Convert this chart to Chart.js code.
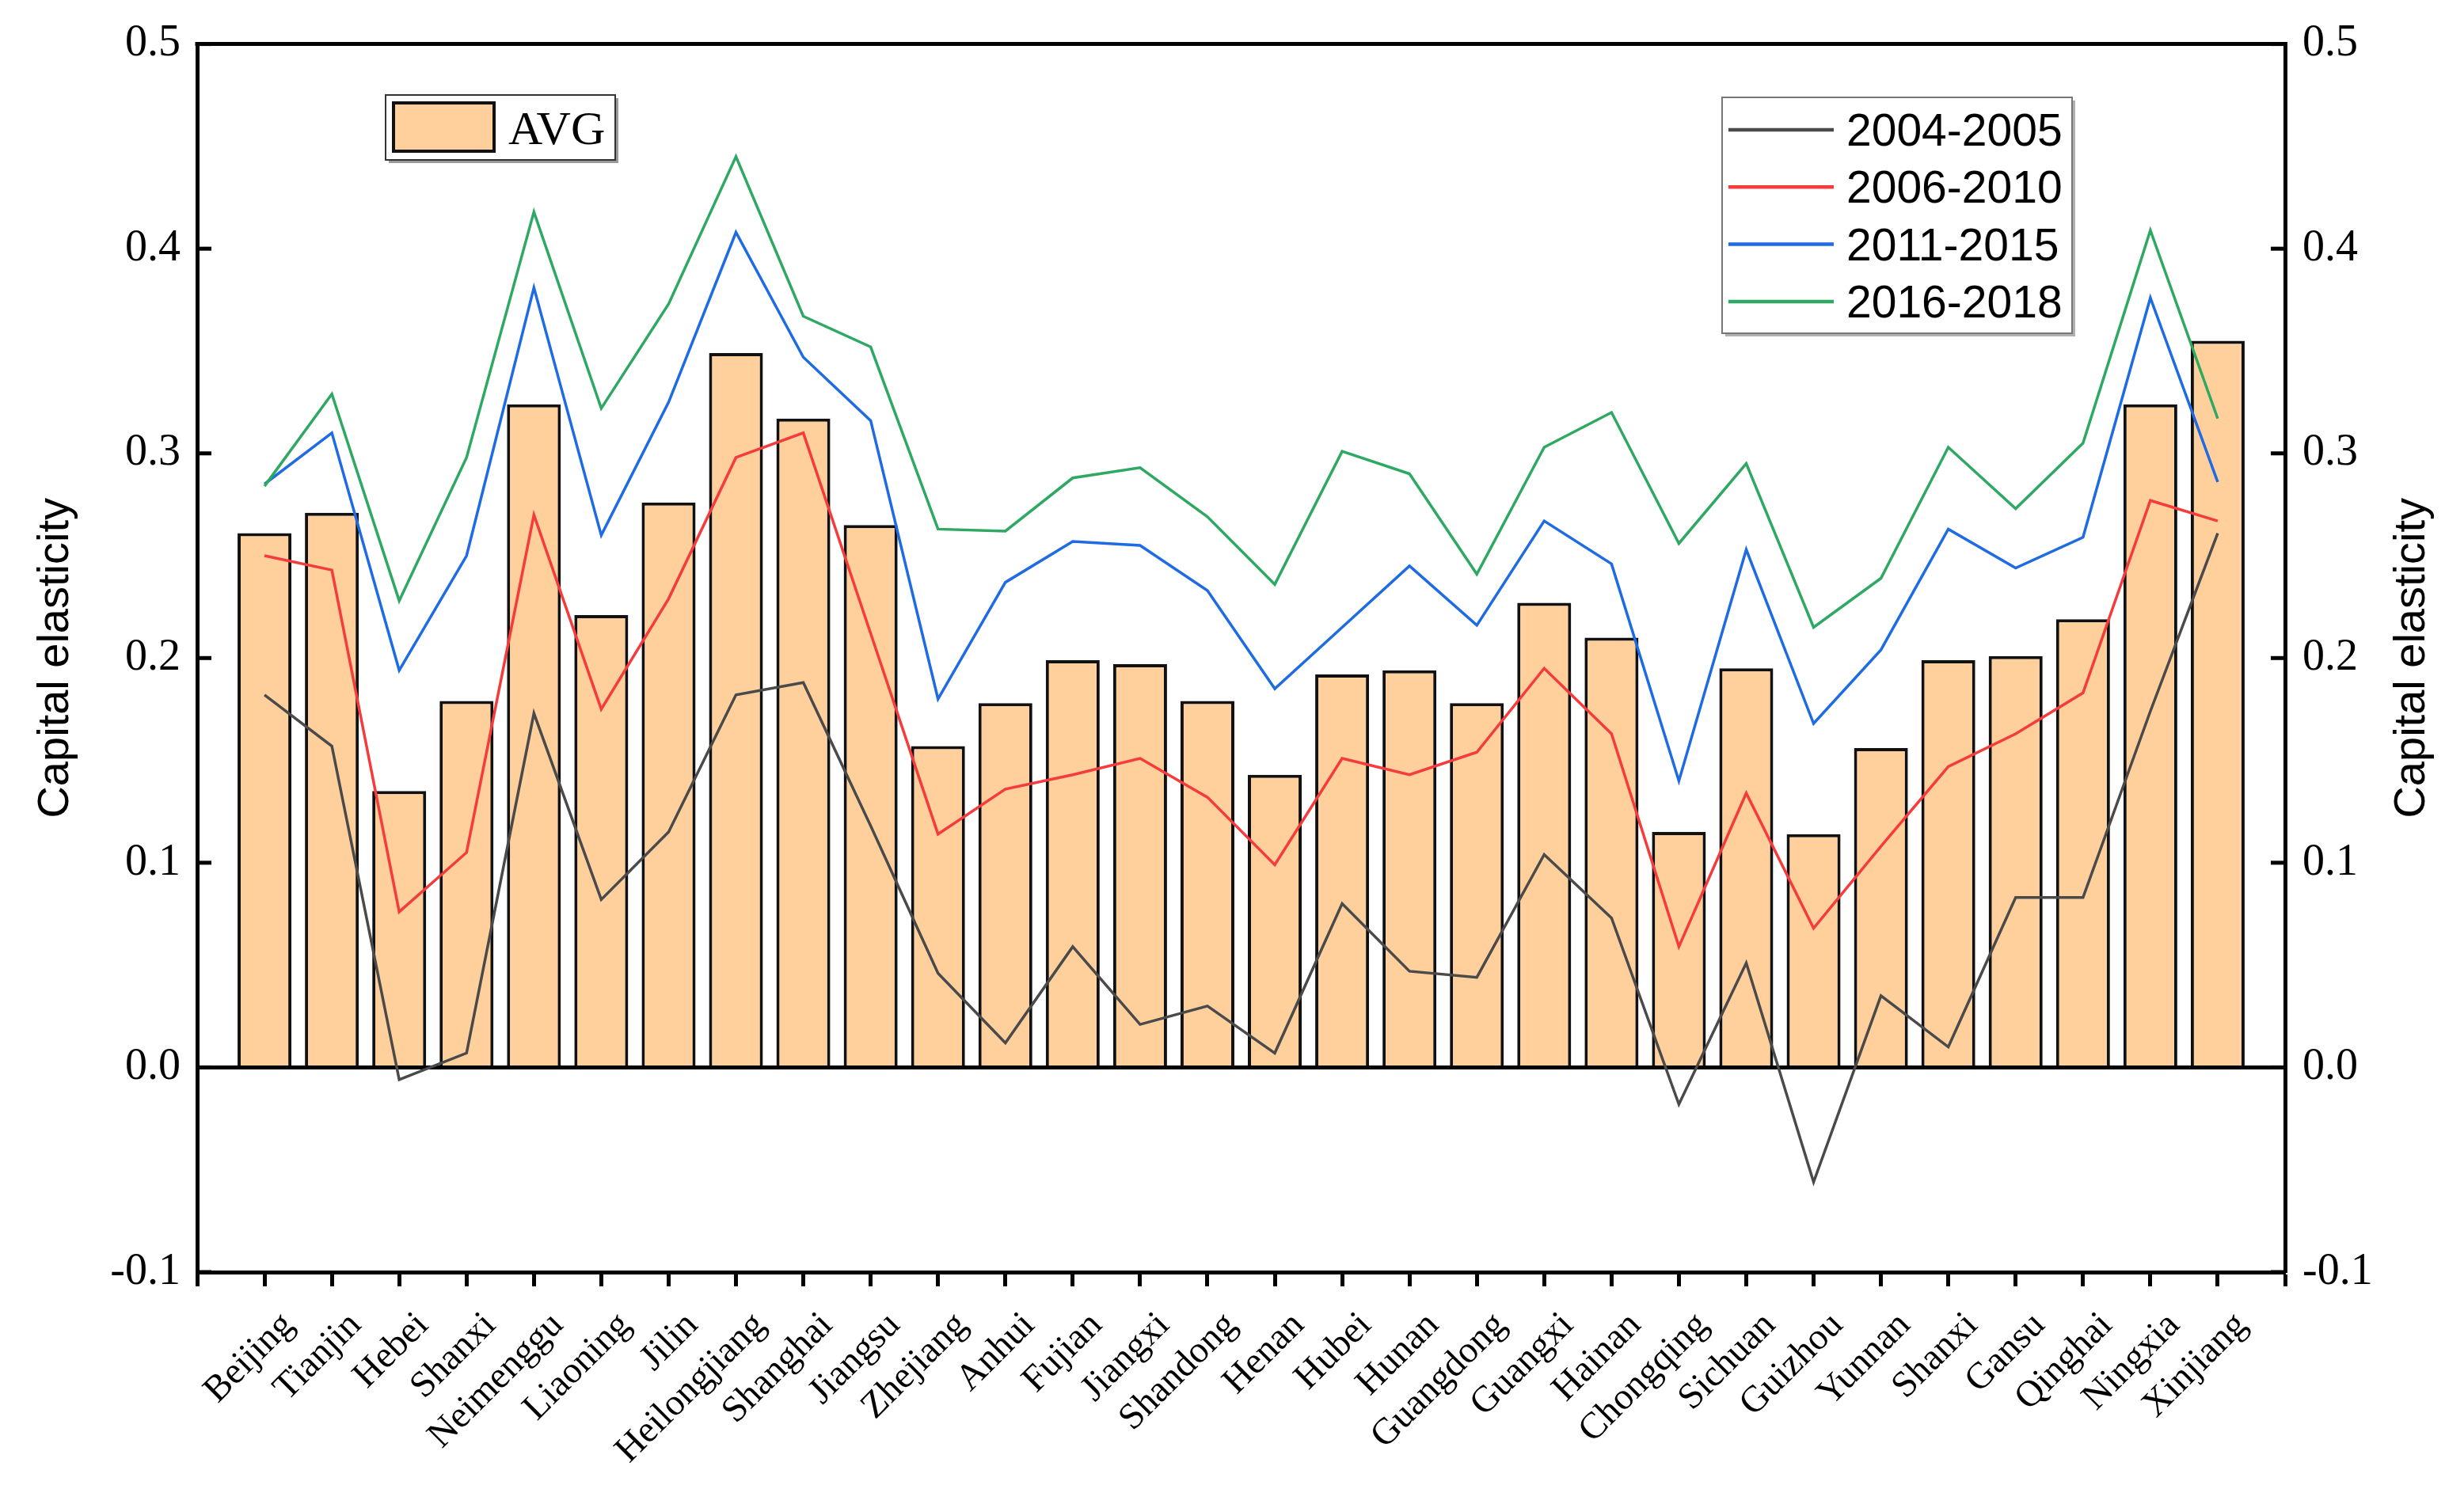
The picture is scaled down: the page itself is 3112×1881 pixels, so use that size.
<!DOCTYPE html>
<html>
<head>
<meta charset="utf-8">
<script src="https://cdn.jsdelivr.net/npm/chart.js@4.4.1/dist/chart.umd.min.js"></script>
<style>
  html, body { margin: 0; padding: 0; background: #ffffff; }
  #wrap { width: 3112px; height: 1881px; }
</style>
</head>
<body>
<div id="wrap"><canvas id="c" width="3112" height="1881"></canvas></div>
<script>
// ---------------- DATA ----------------
const categories = ['Beijing','Tianjin','Hebei','Shanxi','Neimenggu','Liaoning','Jilin','Heilongjiang','Shanghai','Jiangsu',
  'Zhejiang','Anhui','Fujian','Jiangxi','Shandong','Henan','Hubei','Hunan','Guangdong','Guangxi',
  'Hainan','Chongqing','Sichuan','Guizhou','Yunnan','Shanxi','Gansu','Qinghai','Ningxia','Xinjiang'];

const avgValues = [0.261, 0.271, 0.135, 0.179, 0.324, 0.221, 0.276, 0.349, 0.317, 0.265,
  0.157, 0.178, 0.199, 0.197, 0.179, 0.143, 0.192, 0.194, 0.178, 0.227,
  0.210, 0.115, 0.195, 0.114, 0.156, 0.199, 0.201, 0.219, 0.324, 0.355];

const p2004_2005 = [0.182, 0.157, -0.006, 0.007, 0.173, 0.082, 0.115, 0.182, 0.188, 0.118,
  0.046, 0.012, 0.059, 0.021, 0.030, 0.007, 0.080, 0.047, 0.044, 0.104,
  0.073, -0.018, 0.051, -0.056, 0.035, 0.010, 0.083, 0.083, 0.174, 0.261];

const p2006_2010 = [0.250, 0.243, 0.076, 0.105, 0.270, 0.175, 0.229, 0.298, 0.310, 0.212,
  0.114, 0.136, 0.143, 0.151, 0.132, 0.099, 0.151, 0.143, 0.154, 0.195,
  0.163, 0.059, 0.134, 0.068, 0.108, 0.147, 0.163, 0.183, 0.277, 0.267];

const p2011_2015 = [0.285, 0.310, 0.194, 0.250, 0.381, 0.260, 0.325, 0.408, 0.347, 0.316,
  0.180, 0.237, 0.257, 0.255, 0.233, 0.185, 0.215, 0.245, 0.216, 0.267,
  0.246, 0.140, 0.253, 0.168, 0.204, 0.263, 0.244, 0.259, 0.376, 0.286];

const p2016_2018 = [0.284, 0.329, 0.228, 0.298, 0.418, 0.322, 0.373, 0.445, 0.367, 0.352,
  0.263, 0.262, 0.288, 0.293, 0.269, 0.236, 0.301, 0.290, 0.241, 0.303,
  0.320, 0.256, 0.295, 0.215, 0.239, 0.303, 0.273, 0.305, 0.409, 0.317];

const yTickValues = [-0.1, 0.0, 0.1, 0.2, 0.3, 0.4, 0.5];
const seriesNames = ['AVG', '2004-2005', '2006-2010', '2011-2015', '2016-2018'];
const axisTitle = 'Capital elasticity';

// ---------------- STYLE ----------------
const BAR_FILL = '#FFCF9C';
const COLORS = ['#4a4a4a', '#F53B3B', '#1E6BE3', '#2EA862'];
const SERIF = '"Liberation Serif", "Times New Roman", serif';
const SANS = '"Liberation Sans", Arial, sans-serif';

const toXY = arr => arr.map((v, i) => ({ x: i, y: v }));
const lineSeries = [p2004_2005, p2006_2010, p2011_2015, p2016_2018];

const datasets = [
  {
    type: 'bar', label: seriesNames[0], data: toXY(avgValues),
    backgroundColor: BAR_FILL, borderColor: '#111', borderWidth: 4,
    barPercentage: 0.8, categoryPercentage: 1.0, order: 10, yAxisID: 'y'
  },
  ...lineSeries.map((arr, k) => ({
    type: 'line', label: seriesNames[k + 1], data: toXY(arr),
    borderColor: COLORS[k], backgroundColor: COLORS[k], borderWidth: 3.5,
    pointRadius: 0, tension: 0, fill: false, order: 4 - k, yAxisID: 'y'
  }))
];

// ---------------- PLUGIN: frame, inward ticks, titles, legends ----------------
const decor = {
  id: 'decor',
  afterDatasetDraw(chart, args) {
    if (args.meta.type !== 'bar') return;
    const { ctx, chartArea: a } = chart;
    const y0 = chart.scales.y.getPixelForValue(0);
    ctx.save();
    ctx.strokeStyle = '#000'; ctx.lineWidth = 5;
    ctx.beginPath(); ctx.moveTo(a.left, y0); ctx.lineTo(a.right, y0); ctx.stroke();
    ctx.restore();
  },
  afterDraw(chart) {
    const { ctx, chartArea: a } = chart;
    ctx.save();
    ctx.strokeStyle = '#000'; ctx.lineWidth = 5; ctx.lineCap = 'butt';
    // top frame line
    ctx.beginPath(); ctx.moveTo(a.left - 2.5, a.top); ctx.lineTo(a.right + 2.5, a.top); ctx.stroke();
    // inward tick marks on both y axes
    ['y', 'y2'].forEach(id => {
      const s = chart.scales[id];
      s.ticks.forEach(t => {
        const p = s.getPixelForValue(t.value);
        ctx.beginPath();
        if (id === 'y') { ctx.moveTo(a.left, p); ctx.lineTo(a.left + 18, p); }
        else { ctx.moveTo(a.right, p); ctx.lineTo(a.right - 18, p); }
        ctx.stroke();
      });
    });
    // axis titles (both read bottom-to-top)
    const cy = (a.top + a.bottom) / 2;
    ctx.fillStyle = '#000';
    ctx.font = '56px ' + SANS;
    ctx.textAlign = 'center'; ctx.textBaseline = 'middle';
    [[71, cy], [3047, cy]].forEach(([x, y]) => {
      ctx.save(); ctx.translate(x, y); ctx.rotate(-Math.PI / 2);
      ctx.fillText(axisTitle, 0, 0); ctx.restore();
    });

    // ---- AVG legend box ----
    const barDs = chart.data.datasets[0];
    let bx = 487, by = 120, bw = 290, bh = 82;
    ctx.fillStyle = '#9a9a9a'; ctx.fillRect(bx + 4, by + 4, bw, bh);
    ctx.fillStyle = '#fff'; ctx.fillRect(bx, by, bw, bh);
    ctx.lineWidth = 2; ctx.strokeStyle = '#333'; ctx.strokeRect(bx, by, bw, bh);
    ctx.fillStyle = barDs.backgroundColor; ctx.fillRect(497, 130, 127, 61);
    ctx.lineWidth = 4; ctx.strokeStyle = '#111'; ctx.strokeRect(497, 130, 127, 61);
    ctx.fillStyle = '#000'; ctx.font = '60px ' + SERIF;
    ctx.textAlign = 'left'; ctx.textBaseline = 'alphabetic';
    ctx.fillText(barDs.label, 642, 182);

    // ---- line legend box ----
    bx = 2175; by = 123; bw = 442; bh = 298;
    ctx.fillStyle = '#b0b0b0'; ctx.fillRect(bx + 4, by + 4, bw, bh);
    ctx.fillStyle = '#fff'; ctx.fillRect(bx, by, bw, bh);
    ctx.lineWidth = 2; ctx.strokeStyle = '#777'; ctx.strokeRect(bx, by, bw, bh);
    ctx.font = '57px ' + SANS;
    chart.data.datasets.slice(1).forEach((ds, k) => {
      const ly = 164 + k * 72.3;
      ctx.strokeStyle = ds.borderColor; ctx.lineWidth = 4.5;
      ctx.beginPath(); ctx.moveTo(2183, ly); ctx.lineTo(2316, ly); ctx.stroke();
      ctx.fillStyle = '#000';
      ctx.fillText(ds.label, 2332, ly + 20);
    });
    ctx.restore();
  }
};

// ---------------- CHART ----------------
const yScaleBase = {
  type: 'linear', min: -0.1, max: 0.5,
  afterBuildTicks: s => { s.ticks = yTickValues.map(v => ({ value: v })); },
  grid: { display: false, drawTicks: false },
  border: { display: true, width: 5, color: '#000' },
  ticks: { font: { family: SERIF, size: 56 }, color: '#000', callback: v => Number(v).toFixed(1) }
};

new Chart(document.getElementById('c'), {
  type: 'bar',
  data: { datasets },
  plugins: [decor],
  options: {
    responsive: false, animation: false, devicePixelRatio: 1,
    layout: { padding: { top: 53, left: 0, right: 0, bottom: 0 } },
    plugins: { legend: { display: false }, tooltip: { enabled: false } },
    scales: {
      x: {
        type: 'linear', min: -1, max: categories.length, offset: false,
        afterBuildTicks: s => {
          const vals = [-1, ...categories.map((_, i) => i), categories.length];
          s.ticks = vals.map(v => ({ value: v }));
        },
        afterFit: s => { s.height = 274; },
        grid: { display: true, drawOnChartArea: false, drawTicks: true, tickLength: 18, tickWidth: 5, tickColor: '#000', offset: false },
        border: { display: true, width: 5, color: '#000' },
        ticks: {
          autoSkip: false, maxRotation: 45, minRotation: 45, labelOffset: 30, padding: 22,
          font: { family: SERIF, size: 47 }, color: '#000',
          callback: v => (categories[v] !== undefined ? categories[v] : '')
        }
      },
      y: Object.assign({}, yScaleBase, {
        position: 'left',
        afterFit: s => { s.width = 249; },
        ticks: Object.assign({}, yScaleBase.ticks, { padding: 21 })
      }),
      y2: Object.assign({}, yScaleBase, {
        position: 'right',
        afterFit: s => { s.width = 226; },
        ticks: Object.assign({}, yScaleBase.ticks, { padding: 22 })
      })
    }
  }
});
</script>
</body>
</html>
